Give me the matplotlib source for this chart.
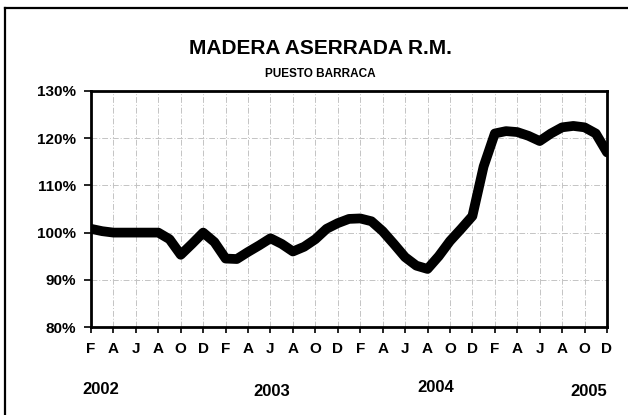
import matplotlib.pyplot as plt
from matplotlib.lines import Line2D

plt.rcParams['font.family'] = ['Liberation Sans', 'DejaVu Sans']
plt.rcParams['font.weight'] = 'bold'

# meses feb-2002 .. dic-2005 (indice mensual)
meses = list(range(47))
valores = [100.8, 100.3, 100.0, 100.0, 100.0, 100.0, 100.0, 98.6, 95.3, 97.6,
           100.0, 98.0, 94.5, 94.4, 95.9, 97.3, 98.8, 97.6, 96.0, 97.0,
           98.6, 100.8, 102.0, 102.9, 103.0, 102.4, 100.3, 97.6, 94.8, 93.0,
           92.3, 95.0, 98.2, 100.8, 103.5, 114.0, 121.0, 121.5, 121.3, 120.5,
           119.4, 121.0, 122.3, 122.6, 122.3, 121.0, 117.0]
etiquetas = ['F', 'A', 'J', 'A', 'O', 'D'] * 4
anios = ['2002', '2003', '2004', '2005']
anios_x = [101, 272, 436, 589]   # posicion en pixeles de cada año
anios_y = [389, 391, 387, 391]

fig = plt.figure(figsize=(6.28, 4.15), dpi=100)
W, H = 628, 415

# marco exterior (solo se ven el borde izquierdo y el superior)
fig.lines.append(Line2D([5 / W, 5 / W], [0, 1 - 8 / H], transform=fig.transFigure,
                        color='black', lw=1.6))
fig.lines.append(Line2D([5 / W, 1], [1 - 8 / H, 1 - 8 / H], transform=fig.transFigure,
                        color='black', lw=1.6))

ax = fig.add_axes([91 / W, 1 - 327 / H, 516 / W, 236 / H])
ax.plot(meses, valores, color='black', lw=7, solid_capstyle='round', solid_joinstyle='round')

ax.set_xlim(0, 46)
ax.set_ylim(80, 130)
ax.set_xticks(range(0, 47, 2))
ax.set_xticklabels(etiquetas, fontsize=11, fontweight='bold')
ax.set_yticks(range(80, 131, 10))
ax.set_yticklabels([f'{v}%' for v in range(80, 131, 10)], fontsize=11, fontweight='bold')
ax.tick_params(axis='y', length=5, width=1.2, pad=6)
ax.tick_params(axis='x', length=4, width=1.2, pad=7)
for s in ax.spines.values():
    s.set_linewidth(2)

ax.grid(True, color='#c4c4c4', lw=0.7, linestyle=(0, (6, 2, 1, 2)))
ax.set_axisbelow(True)

fig.text(320 / W, 1 - 48 / H, 'MADERA ASERRADA R.M.', ha='center', va='center',
         fontsize=15, fontweight='bold')
fig.text(320 / W, 1 - 74 / H, 'PUESTO BARRACA', ha='center', va='center',
         fontsize=8.5, fontweight='bold')

for a, x, y in zip(anios, anios_x, anios_y):
    fig.text(x / W, 1 - y / H, a, ha='center', va='center', fontsize=12, fontweight='bold')

fig.savefig('out.png', dpi=100)
